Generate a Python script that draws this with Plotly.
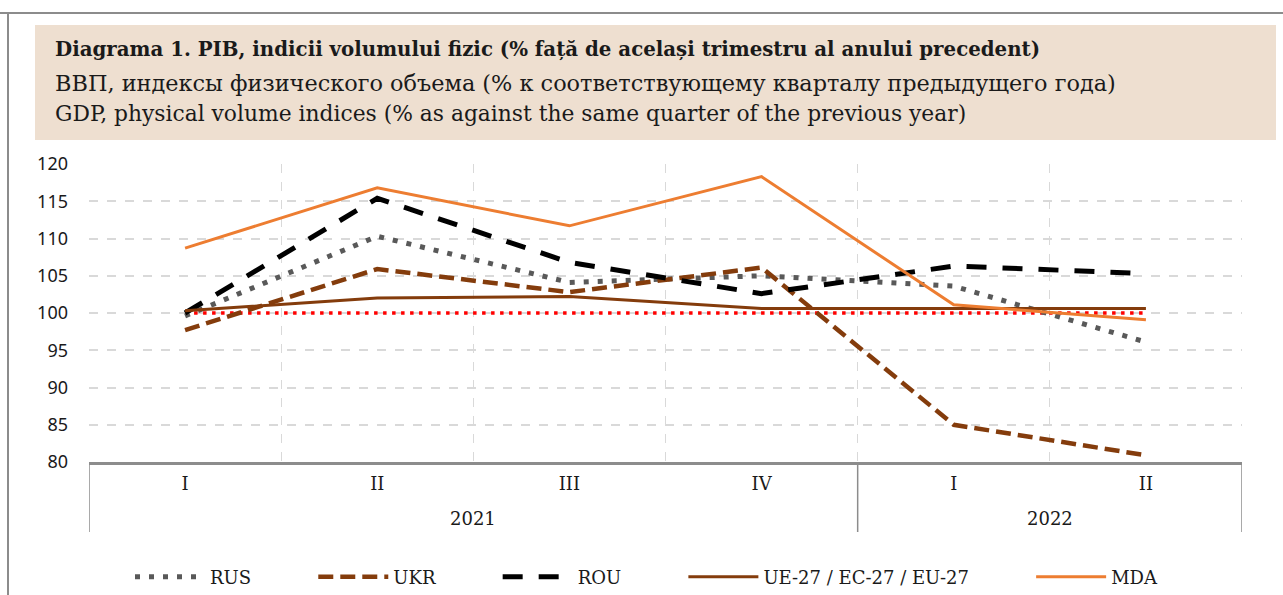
import plotly.graph_objects as go

quarters = ["I", "II", "III", "IV", "I", "II"]
years = ["2021", "2022"]
x_idx = [0, 1, 2, 3, 4, 5]

rus = [99.6, 110.3, 104.1, 105.0, 103.6, 96.1]
ukr = [97.7, 105.9, 102.8, 106.1, 85.0, 80.9]
rou = [100.0, 115.4, 106.8, 102.6, 106.3, 105.3]
eu = [100.3, 102.0, 102.2, 100.6, 100.6, 100.6]
mda = [108.7, 116.8, 111.7, 118.3, 101.1, 99.1]
base = [100, 100, 100, 100, 100, 100]

names = ["RUS", "UKR", "ROU", "UE-27 / EC-27 / EU-27", "MDA"]

title_lines = [
    "<b>Diagrama 1. PIB, indicii volumului fizic (% față de același trimestru al anului precedent)</b>",
    "ВВП, индексы физического объема (% к соответствующему кварталу предыдущего года)",
    "GDP, physical volume indices (% as against the same quarter of the previous year)",
]

SERIF = "DejaVu Serif"
SANS = "Noto Sans"
PAD = "\u00a0" * 10

# plot area pixel geometry
L, R, T, B = 89, 1242, 164, 462
W, H = R - L, B - T


def px(xp):
    return (xp - L) / W


def py(yp):
    return (B - yp) / H


fig = go.Figure()
fig.add_trace(go.Scatter(x=x_idx, y=base, mode="lines", showlegend=False,
                         line=dict(color="#FF0000", width=3.5, dash="3.5px,5.5px")))
fig.add_trace(go.Scatter(x=x_idx, y=rus, mode="lines", name=names[0] + PAD,
                         line=dict(color="#595959", width=5, dash="5px,9px")))
fig.add_trace(go.Scatter(x=x_idx, y=ukr, mode="lines", name=names[1] + PAD,
                         line=dict(color="#843C0C", width=4.5, dash="15px,7px")))
fig.add_trace(go.Scatter(x=x_idx, y=rou, mode="lines", name=names[2] + PAD,
                         line=dict(color="#000000", width=5, dash="20px,16px")))
fig.add_trace(go.Scatter(x=x_idx, y=eu, mode="lines", name=names[3] + PAD,
                         line=dict(color="#843C0C", width=3)))
fig.add_trace(go.Scatter(x=x_idx, y=mda, mode="lines", name=names[4],
                         line=dict(color="#ED7D31", width=3)))

shapes = [
    # title box
    dict(type="rect", xref="paper", yref="paper", x0=px(35), x1=px(1276), y0=py(25), y1=py(140),
         fillcolor="#EEDFD0", line=dict(width=0), layer="below"),
    # outer frame
    dict(type="line", xref="paper", yref="paper", x0=px(0), x1=px(1283), y0=py(13), y1=py(13),
         line=dict(color="#8C8C8C", width=2)),
    dict(type="line", xref="paper", yref="paper", x0=px(8), x1=px(8), y0=py(13), y1=py(600),
         line=dict(color="#8C8C8C", width=2)),
]
for xv in [-0.5, 3.5, 5.5]:
    shapes.append(dict(type="line", xref="x", yref="paper", x0=xv, x1=xv, y0=0, y1=py(532),
                       line=dict(color="#8C8C8C", width=1.5)))

annotations = []
for i, (txt, yc, fs) in enumerate(zip(title_lines, [49, 83, 113], [19.8, 22.4, 21.8])):
    annotations.append(dict(text=txt, xref="paper", yref="paper", x=px(53), y=py(yc),
                            xanchor="left", yanchor="middle", showarrow=False,
                            font=dict(family=SERIF, size=fs, color="#1A1A1A")))
for yr, xc in zip(years, [1.5, 4.5]):
    annotations.append(dict(text=yr, xref="x", yref="paper", x=xc, y=py(518),
                            xanchor="center", yanchor="middle", showarrow=False,
                            font=dict(family=SERIF, size=18, color="#1A1A1A")))

fig.update_layout(
    width=1283, height=595,
    margin=dict(l=L, r=1283 - R, t=T, b=595 - B, pad=0, autoexpand=False),
    paper_bgcolor="white", plot_bgcolor="white",
    shapes=shapes, annotations=annotations,
    legend=dict(orientation="h", x=px(130), xanchor="left", y=py(577), yanchor="middle",
                font=dict(family=SERIF, size=18, color="#1A1A1A"), itemwidth=70,
                bgcolor="rgba(0,0,0,0)"),
    xaxis=dict(range=[-0.5, 5.5], tickmode="array", tickvals=x_idx, ticktext=quarters,
               showgrid=False, zeroline=False, showline=True, linecolor="#8C8C8C", linewidth=2.5,
               ticks="", tickfont=dict(family=SERIF, size=18, color="#1A1A1A"),
               ticklabelstandoff=4, automargin=False,
               minor=dict(tickmode="linear", tick0=-0.5, dtick=1, showgrid=True,
                          gridcolor="#D9D9D9", griddash="dash", gridwidth=1.3, ticks="")),
    yaxis=dict(range=[80, 120], tickmode="linear", tick0=80, dtick=5,
               showgrid=True, gridcolor="#D9D9D9", griddash="dash", gridwidth=2,
               zeroline=False, showline=False, ticks="", automargin=False,
               tickfont=dict(family=SANS, size=18, color="#1A1A1A"), ticklabelstandoff=20),
)

fig.write_html("out.html", config={"displayModeBar": False},
               post_script="document.body.style.margin='0';")
